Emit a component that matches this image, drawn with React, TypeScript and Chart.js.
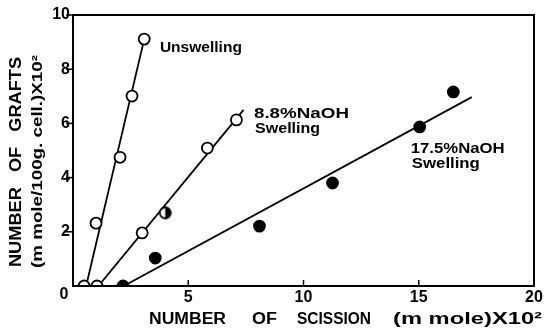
import React, { useEffect, useRef } from "react";
import { Chart, registerables } from "chart.js";

Chart.register(...registerables);

// Data
const unswellX = [0.48, 1.0, 2.04, 2.56, 3.09];
const unswellY = [0, 2.32, 4.75, 7.01, 9.11];
const naoh88X = [1.04, 3.0, 4.0, 5.83, 7.09];
const naoh88Y = [0, 1.96, 2.7, 5.09, 6.13];
const naoh175X = [2.17, 3.57, 8.09, 11.26, 15.04, 16.5];
const naoh175Y = [0, 1.03, 2.21, 3.8, 5.87, 7.16];

const fitUnswellX = [0.57, 3.09];
const fitUnswellY = [0, 9.11];
const fit88X = [1.1, 7.4];
const fit88Y = [0, 6.5];
const fit175X = [2.2, 17.3];
const fit175Y = [0, 6.97];

const xTicks = [0, 5, 10, 15, 20];
const yTicks = [0, 2, 4, 6, 8, 10];

const annotations = [
  { text: "Unswelling", x: 3.77, y: 8.8, w: 82 },
  { text: "8.8%NaOH", x: 7.85, y: 6.35, w: 95 },
  { text: "Swelling", x: 7.9, y: 5.8, w: 65 },
  { text: "17.5%NaOH", x: 14.65, y: 5.06, w: 94 },
  { text: "Swelling", x: 14.7, y: 4.5, w: 68 },
];

const xTitleWords = ["NUMBER", "OF", "SCISSION", "(m mole)X10²"];
const yTitleLines = ["NUMBER   OF   GRAFTS", "(m mole/100g. cell.)X10²"];

const FONT = "'Liberation Sans', Arial, sans-serif";

function pts(xs: number[], ys: number[]) {
  return xs.map((x, i) => ({ x, y: ys[i] }));
}

function fitText(ctx: any, text: string, x: number, y: number, width: number) {
  const w0 = ctx.measureText(text).width;
  ctx.save();
  ctx.translate(x, y);
  ctx.scale(width / w0, 1);
  ctx.fillText(text, 0, 0);
  ctx.restore();
}

export default function App() {
  const ref = useRef<HTMLCanvasElement | null>(null);
  useEffect(() => {
    document.body.style.margin = "0";
    const canvas = ref.current!;

    const half = document.createElement("canvas");
    half.width = 15;
    half.height = 15;
    const hc = half.getContext("2d")!;
    hc.beginPath();
    hc.arc(7.5, 7.5, 5.5, 0, Math.PI * 2);
    hc.fillStyle = "#fff";
    hc.fill();
    hc.beginPath();
    hc.arc(7.5, 7.5, 5.5, -Math.PI / 2, Math.PI / 2);
    hc.closePath();
    hc.fillStyle = "#000";
    hc.fill();
    hc.beginPath();
    hc.arc(7.5, 7.5, 5.5, 0, Math.PI * 2);
    hc.lineWidth = 1.8;
    hc.strokeStyle = "#000";
    hc.stroke();

    const decor = {
      id: "decor",
      afterDraw(chart: any) {
        const ctx = chart.ctx;
        const xs = chart.scales.x;
        const ys = chart.scales.y;
        const { left, right, top, bottom } = chart.chartArea;
        ctx.save();
        ctx.strokeStyle = "#000";
        ctx.fillStyle = "#000";
        // frame
        ctx.lineWidth = 2;
        ctx.strokeRect(left, top, right - left, bottom - top);
        // y ticks outward
        ctx.lineWidth = 1.5;
        yTicks.forEach((v) => {
          if (v === 0) return;
          const p = ys.getPixelForValue(v);
          ctx.beginPath();
          ctx.moveTo(left - 7, p);
          ctx.lineTo(left, p);
          ctx.stroke();
        });
        // x ticks inward
        xTicks.forEach((v) => {
          if (v === 0 || v === 20) return;
          const p = xs.getPixelForValue(v);
          ctx.beginPath();
          ctx.moveTo(p, bottom);
          ctx.lineTo(p, bottom - 6);
          ctx.stroke();
        });
        // tick labels
        ctx.font = `bold 16px ${FONT}`;
        ctx.textBaseline = "middle";
        ctx.textAlign = "right";
        yTicks.forEach((v) => {
          if (v === 0) return;
          ctx.fillText(String(v), left - 3, ys.getPixelForValue(v));
        });
        ctx.textAlign = "center";
        xTicks.forEach((v) => {
          if (v === 0) return;
          ctx.fillText(String(v), xs.getPixelForValue(v), bottom + 12);
        });
        ctx.fillText("0", left - 9, bottom + 9);
        ctx.textAlign = "left";
        // x title
        ctx.font = `bold 16px ${FONT}`;
        const wordX = [149, 252, 297, 393];
        const wordW = [77, 25, 74, 149];
        xTitleWords.forEach((w, i) => fitText(ctx, w, wordX[i], 320, wordW[i]));
        // y title
        ctx.save();
        ctx.translate(17, 267);
        ctx.rotate(-Math.PI / 2);
        ctx.font = `bold 16px ${FONT}`;
        fitText(ctx, yTitleLines[0], 0, 0, 210);
        ctx.restore();
        ctx.save();
        ctx.translate(38, 268);
        ctx.rotate(-Math.PI / 2);
        ctx.font = `bold 15px ${FONT}`;
        fitText(ctx, yTitleLines[1], 0, 0, 213);
        ctx.restore();
        // annotations
        ctx.font = `bold 15px ${FONT}`;
        annotations.forEach((a) => {
          fitText(ctx, a.text, xs.getPixelForValue(a.x), ys.getPixelForValue(a.y), a.w);
        });
        ctx.restore();
      },
    };

    const marker = (fill: string) => ({
      pointRadius: 5.5,
      pointBorderWidth: 1.8,
      pointBorderColor: "#000",
      pointBackgroundColor: fill,
      showLine: false,
      order: 0,
    });
    const fitLine = {
      showLine: true,
      pointRadius: 0,
      borderColor: "#000",
      borderWidth: 1.8,
      order: 1,
    };

    const chart = new Chart(canvas, {
      type: "scatter",
      data: {
        datasets: [
          { label: "Unswelling", data: pts(unswellX, unswellY), ...marker("#fff") },
          {
            label: "8.8% NaOH Swelling",
            data: pts(naoh88X, naoh88Y),
            ...marker("#fff"),
            pointStyle: naoh88X.map((_, i) => (i === 2 ? half : "circle")) as any,
          },
          { label: "17.5% NaOH Swelling", data: pts(naoh175X, naoh175Y), ...marker("#000") },
          { label: "fit1", data: pts(fitUnswellX, fitUnswellY), ...fitLine },
          { label: "fit2", data: pts(fit88X, fit88Y), ...fitLine },
          { label: "fit3", data: pts(fit175X, fit175Y), ...fitLine },
        ] as any,
      },
      options: {
        animation: false,
        responsive: false,
        devicePixelRatio: 1,
        layout: { padding: { left: 0, top: 15, right: 11, bottom: 0 } },
        plugins: { legend: { display: false }, tooltip: { enabled: false } },
        scales: {
          x: {
            type: "linear",
            min: 0,
            max: 20,
            grid: { display: false },
            border: { display: false },
            ticks: { display: false },
            afterFit: (s: any) => {
              s.height = 43;
            },
          },
          y: {
            type: "linear",
            min: 0,
            max: 10,
            grid: { display: false },
            border: { display: false },
            ticks: { display: false },
            afterFit: (s: any) => {
              s.width = 73;
            },
          },
        },
      },
      plugins: [decor],
    } as any);
    return () => chart.destroy();
  }, []);
  return <canvas ref={ref} width={545} height={329} style={{ display: "block" }} />;
}
